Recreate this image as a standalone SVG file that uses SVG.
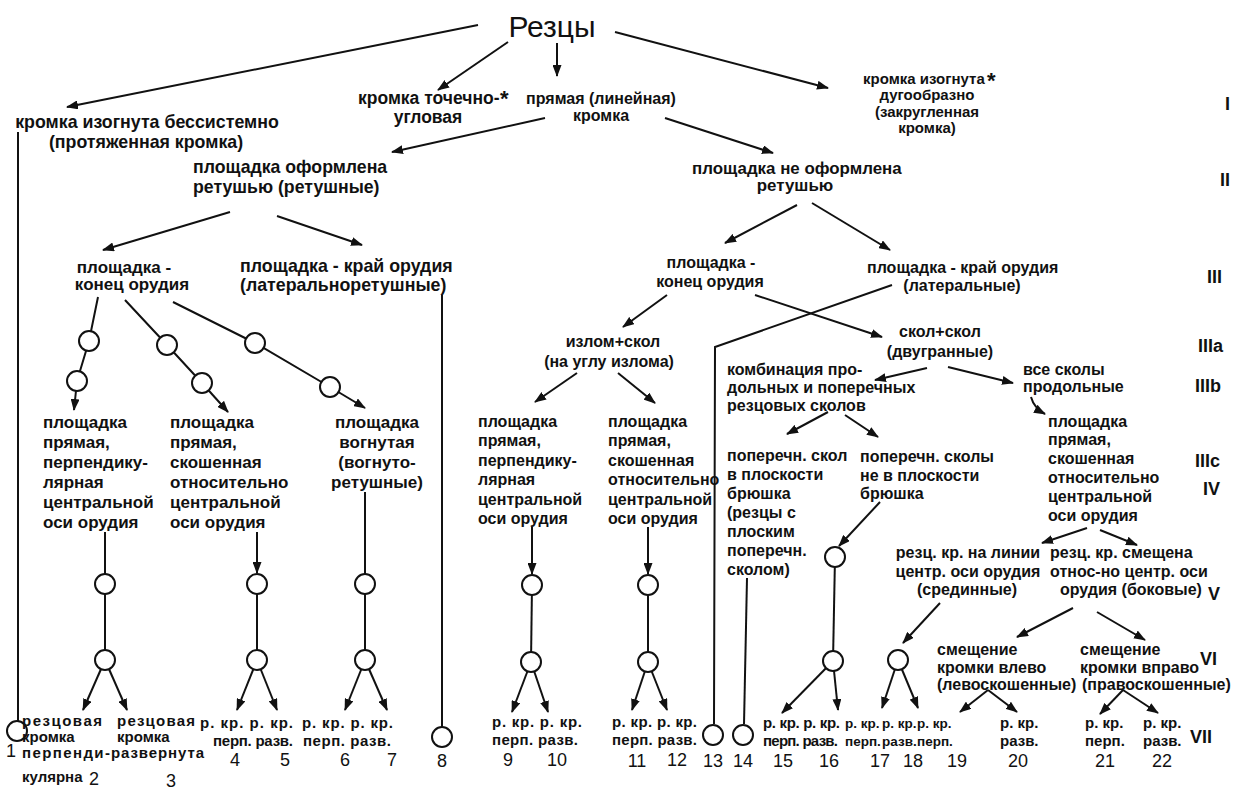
<svg xmlns="http://www.w3.org/2000/svg" width="1247" height="798" viewBox="0 0 1247 798">
<style>
text{font-family:"Liberation Sans",Arial,sans-serif;font-weight:bold;fill:#111}
.t{font-size:16px}
.s{font-size:15px}
.xs{font-size:13.5px}
.l{font-size:17px}
.n{font-size:18px;font-weight:normal;text-anchor:middle}
.m{text-anchor:middle}
.r{font-size:18px}
.ti{font-size:30px;font-weight:normal;text-anchor:middle}
.st{font-size:22px}
line,path,polyline{fill:none;stroke:#111;stroke-width:2}
.a{marker-end:url(#ah)}
circle{fill:#fff;stroke:#111;stroke-width:2}
</style>
<defs>
<marker id="ah" markerUnits="userSpaceOnUse" markerWidth="12" markerHeight="9" refX="11" refY="4.5" orient="auto">
<path d="M0,0 L12,4.5 L0,9 z" style="fill:#111;stroke:none"/>
</marker>
</defs>
<rect width="1247" height="798" fill="#fff"/>

<g id="connectors">
<line class="a" x1="478" y1="25" x2="67" y2="107"/>
<line class="a" x1="508" y1="42" x2="438" y2="90"/>
<line class="a" x1="557" y1="43" x2="557" y2="76"/>
<line class="a" x1="615" y1="32" x2="828" y2="88"/>
<line class="a" x1="545" y1="118" x2="392" y2="152"/>
<line class="a" x1="665" y1="118" x2="773" y2="153"/>
<line class="a" x1="230" y1="212" x2="103" y2="250"/>
<line class="a" x1="277" y1="216" x2="362" y2="245"/>
<line class="a" x1="797" y1="205" x2="725" y2="243"/>
<line class="a" x1="812" y1="203" x2="890" y2="250"/>
<line x1="18" y1="132" x2="18" y2="721"/>
<line x1="442" y1="295" x2="442" y2="727"/>
<polyline points="98,297 89,341 77,381"/>
<line class="a" x1="77" y1="381" x2="74" y2="410"/>
<polyline points="125,300 167,345 202,383"/>
<line class="a" x1="202" y1="383" x2="228" y2="412"/>
<polyline points="173,302 255,343 330,387"/>
<line class="a" x1="330" y1="387" x2="365" y2="408"/>
<line x1="105" y1="532" x2="105" y2="660"/>
<line class="a" x1="257" y1="532" x2="257" y2="573"/>
<line x1="257" y1="584" x2="257" y2="660"/>
<line x1="365" y1="492" x2="365" y2="660"/>
<line class="a" x1="105" y1="660" x2="83" y2="710"/>
<line class="a" x1="105" y1="660" x2="127" y2="710"/>
<line class="a" x1="257" y1="660" x2="237" y2="710"/>
<line class="a" x1="257" y1="660" x2="277" y2="710"/>
<line class="a" x1="365" y1="660" x2="345" y2="710"/>
<line class="a" x1="365" y1="660" x2="387" y2="710"/>
<line class="a" x1="667" y1="295" x2="623" y2="327"/>
<line class="a" x1="755" y1="295" x2="882" y2="337"/>
<polyline points="892,285 715,347 714,724"/>
<line class="a" x1="577" y1="373" x2="535" y2="402"/>
<line class="a" x1="618" y1="373" x2="655" y2="403"/>
<line class="a" x1="532" y1="527" x2="532" y2="574"/>
<line x1="532" y1="585" x2="531" y2="662"/>
<line class="a" x1="531" y1="662" x2="512" y2="712"/>
<line class="a" x1="531" y1="662" x2="548" y2="712"/>
<line class="a" x1="648" y1="527" x2="648" y2="574"/>
<line x1="648" y1="585" x2="648" y2="662"/>
<line class="a" x1="648" y1="662" x2="632" y2="710"/>
<line class="a" x1="648" y1="662" x2="667" y2="710"/>
<line x1="747" y1="578" x2="744" y2="724"/>
<line class="a" x1="927" y1="368" x2="875" y2="380"/>
<line class="a" x1="948" y1="367" x2="1013" y2="383"/>
<path class="a" d="M1031,397 Q1034,408 1045,414"/>
<line class="a" x1="828" y1="412" x2="787" y2="434"/>
<line class="a" x1="845" y1="415" x2="878" y2="437"/>
<line class="a" x1="880" y1="502" x2="839" y2="546"/>
<line x1="835" y1="557" x2="833" y2="661"/>
<line class="a" x1="833" y1="661" x2="782" y2="713"/>
<line class="a" x1="833" y1="661" x2="838" y2="710"/>
<line class="a" x1="1087" y1="528" x2="1042" y2="543"/>
<line class="a" x1="1100" y1="530" x2="1137" y2="545"/>
<line class="a" x1="940" y1="603" x2="903" y2="643"/>
<line class="a" x1="898" y1="660" x2="882" y2="708"/>
<line class="a" x1="898" y1="660" x2="918" y2="708"/>
<line class="a" x1="1073" y1="608" x2="1017" y2="637"/>
<line class="a" x1="1097" y1="612" x2="1145" y2="640"/>
<line class="a" x1="988" y1="690" x2="960" y2="712"/>
<line class="a" x1="988" y1="690" x2="1017" y2="712"/>
<line class="a" x1="1123" y1="690" x2="1100" y2="714"/>
<line class="a" x1="1123" y1="690" x2="1158" y2="713"/>
</g>

<g id="root"><text class="ti" x="552" y="37">Резцы</text></g>

<g id="n-unsystematic" style="font-size:17.8px">
<text class="m" x="147" y="128">кромка изогнута бессистемно</text>
<text class="m" x="146" y="148">(протяженная кромка)</text>
</g>
<g id="n-point" style="font-size:17.5px">
<text x="358" y="104">кромка точечно-</text><text class="st" x="500" y="106">*</text>
<text class="m" x="428" y="123">угловая</text>
</g>
<g id="n-straight" class="t">
<text class="m" x="601" y="104">прямая (линейная)</text>
<text class="m" x="601" y="121">кромка</text>
</g>
<g id="n-curved" class="s">
<text x="863" y="84">кромка изогнута</text><text class="st" x="987" y="88">*</text>
<text class="m" x="927" y="100">дугообразно</text>
<text class="m" x="927" y="117">(закругленная</text>
<text class="m" x="927" y="133">кромка)</text>
</g>

<g id="n-retouched" style="font-size:17.7px">
<text x="193" y="173">площадка оформлена</text>
<text x="193" y="193">ретушью (ретушные)</text>
</g>
<g id="n-not-retouched" style="font-size:16.9px">
<text x="692" y="174">площадка  не оформлена</text>
<text class="m" x="795" y="191">ретушью</text>
</g>

<g id="n-end-left" class="l">
<text class="m" x="124" y="273">площадка -</text>
<text class="m" x="132" y="290">конец орудия</text>
</g>
<g id="n-edge-left" style="font-size:17.8px">
<text x="240" y="272">площадка - край орудия</text>
<text x="240" y="291">(латеральноретушные)</text>
</g>
<g id="n-end-right" class="t">
<text class="m" x="711" y="268">площадка -</text>
<text class="m" x="710" y="287">конец орудия</text>
</g>
<g id="n-edge-right" class="t">
<text x="867" y="273">площадка - край орудия</text>
<text class="m" x="962" y="291">(латеральные)</text>
</g>

<g id="n-break" class="t">
<text class="m" x="613" y="347">излом+скол</text>
<text class="m" x="609" y="367">(на углу излома)</text>
</g>
<g id="n-dihedral" class="t">
<text class="m" x="940" y="337">скол+скол</text>
<text class="m" x="940" y="357">(двугранные)</text>
</g>
<g id="n-combination" class="t">
<text x="727" y="375">комбинация про-</text>
<text x="727" y="393">дольных и поперечных</text>
<text x="727" y="411">резцовых сколов</text>
</g>
<g id="n-longitudinal" class="t">
<text x="1023" y="375">все сколы</text>
<text x="1023" y="392">продольные</text>
</g>

<g id="n-A" class="l">
<text x="43" y="428">площадка</text><text x="43" y="448">прямая,</text><text x="43" y="468">перпендику-</text><text x="43" y="488">лярная</text><text x="43" y="508">центральной</text><text x="43" y="528">оси орудия</text>
</g>
<g id="n-B" class="l">
<text x="170" y="428">площадка</text><text x="170" y="448">прямая,</text><text x="170" y="468">скошенная</text><text x="170" y="488">относительно</text><text x="170" y="508">центральной</text><text x="170" y="528">оси орудия</text>
</g>
<g id="n-C" class="l">
<text class="m" x="377" y="428">площадка</text><text class="m" x="377" y="448">вогнутая</text><text class="m" x="377" y="468">(вогнуто-</text><text class="m" x="377" y="488">ретушные)</text>
</g>
<g id="n-D" class="t">
<text x="478" y="427">площадка</text><text x="478" y="446">прямая,</text><text x="478" y="466">перпендику-</text><text x="478" y="485">лярная</text><text x="478" y="505">центральной</text><text x="478" y="524">оси орудия</text>
</g>
<g id="n-E" class="t">
<text x="608" y="427">площадка</text><text x="608" y="446">прямая,</text><text x="608" y="466">скошенная</text><text x="608" y="485">относительно</text><text x="608" y="505">центральной</text><text x="608" y="524">оси орудия</text>
</g>
<g id="n-transverse-flat" class="t">
<text x="727" y="461">поперечн. скол</text><text x="727" y="480">в плоскости</text><text x="727" y="499">брюшка</text><text x="727" y="518">(резцы с</text><text x="727" y="537">плоским</text><text x="727" y="556">поперечн.</text><text x="727" y="575">сколом)</text>
</g>
<g id="n-transverse-not" class="t">
<text x="860" y="462">поперечн. сколы</text><text x="860" y="481">не в плоскости</text><text x="860" y="499">брюшка</text>
</g>
<g id="n-F" class="t">
<text x="1048" y="427">площадка</text><text x="1048" y="445">прямая,</text><text x="1048" y="464">скошенная</text><text x="1048" y="483">относительно</text><text x="1048" y="502">центральной</text><text x="1048" y="521">оси орудия</text>
</g>
<g id="n-median" class="t">
<text class="m" x="968" y="558">резц. кр. на линии</text>
<text class="m" x="968" y="577">центр. оси орудия</text>
<text class="m" x="967" y="595">(срединные)</text>
</g>
<g id="n-lateral" class="t">
<text x="1050" y="558">резц. кр.   смещена</text>
<text x="1050" y="577">относ-но центр. оси</text>
<text x="1060" y="595">орудия (боковые)</text>
</g>
<g id="n-left-shift" class="t">
<text x="937" y="655">смещение</text><text x="937" y="673">кромки влево</text><text x="937" y="690">(левоскошенные)</text>
</g>
<g id="n-right-shift" class="t">
<text x="1080" y="655">смещение</text><text x="1080" y="673">кромки вправо</text><text x="1082" y="690">(правоскошенные)</text>
</g>

<g id="j-A"><circle cx="89" cy="341" r="10"/><circle cx="77" cy="381" r="10"/></g>
<g id="j-B"><circle cx="167" cy="345" r="10"/><circle cx="202" cy="383" r="10"/></g>
<g id="j-C"><circle cx="255" cy="343" r="10"/><circle cx="330" cy="387" r="10"/></g>
<g id="j-A2"><circle cx="105" cy="584" r="10"/><circle cx="105" cy="660" r="10"/></g>
<g id="j-B2"><circle cx="257" cy="584" r="10"/><circle cx="257" cy="660" r="10"/></g>
<g id="j-C2"><circle cx="365" cy="584" r="10"/><circle cx="365" cy="660" r="10"/></g>
<g id="j-D2"><circle cx="532" cy="585" r="10"/><circle cx="531" cy="662" r="10"/></g>
<g id="j-E2"><circle cx="648" cy="585" r="10"/><circle cx="648" cy="662" r="10"/></g>
<g id="j-G"><circle cx="835" cy="557" r="10"/><circle cx="833" cy="661" r="10"/></g>
<g id="j-H"><circle cx="898" cy="660" r="10"/></g>

<g id="leaf-1"><circle cx="17" cy="731" r="10"/><text class="n" x="11" y="757">1</text></g>
<g id="leaf-2-3" class="s">
<text x="22" y="726" textLength="80">резцовая</text><text x="22" y="742">кромка</text><text x="22" y="758" textLength="88">перпенди-</text><text x="22" y="782">кулярна</text>
<text x="117" y="726" textLength="78">резцовая</text><text x="117" y="742">кромка</text><text x="111" y="758" textLength="93">развернута</text>
<text class="n" x="94" y="785">2</text><text class="n" x="171" y="787">3</text>
</g>
<g id="leaf-4-5" class="s"><text x="200" y="728" textLength="93">р. кр. р. кр.</text><text x="213" y="746" textLength="80">перп. разв.</text><text class="n" x="235" y="766">4</text><text class="n" x="285" y="766">5</text></g>
<g id="leaf-6-7" class="s"><text x="302" y="728" textLength="91">р. кр. р. кр.</text><text x="303" y="746" textLength="88">перп. разв.</text><text class="n" x="345" y="766">6</text><text class="n" x="392" y="766">7</text></g>
<g id="leaf-8"><circle cx="442" cy="737" r="10"/><text class="n" x="442" y="767">8</text></g>
<g id="leaf-9-10" class="s"><text x="492" y="727" textLength="90">р. кр. р. кр.</text><text x="492" y="745" textLength="86">перп. разв.</text><text class="n" x="508" y="766">9</text><text class="n" x="557" y="766">10</text></g>
<g id="leaf-11-12" class="s"><text x="612" y="727" textLength="85">р. кр. р. кр.</text><text x="612" y="745" textLength="85">перп. разв.</text><text class="n" x="637" y="767">11</text><text class="n" x="677" y="766">12</text></g>
<g id="leaf-13"><circle cx="713" cy="735" r="10"/><text class="n" x="713" y="767">13</text></g>
<g id="leaf-14"><circle cx="743" cy="735" r="10"/><text class="n" x="743" y="767">14</text></g>
<g id="leaf-15-16" class="s"><text x="763" y="728" textLength="77">р. кр. р. кр.</text><text x="763" y="746" textLength="75">перп. разв.</text><text class="n" x="783" y="767">15</text><text class="n" x="829" y="767">16</text></g>
<g id="leaf-17-19" class="xs"><text x="845" y="728">р. кр.</text><text x="882" y="728">р. кр.</text><text x="917" y="728">р. кр.</text><text x="845" y="746">перп.</text><text x="882" y="746">разв.</text><text x="917" y="746">перп.</text><text class="n" x="880" y="767">17</text><text class="n" x="913" y="767">18</text><text class="n" x="957" y="767">19</text></g>
<g id="leaf-20" class="s"><text x="1000" y="728">р. кр.</text><text x="1000" y="746">разв.</text><text class="n" x="1018" y="767">20</text></g>
<g id="leaf-21" class="s"><text x="1085" y="728">р. кр.</text><text x="1085" y="746">перп.</text><text class="n" x="1105" y="767">21</text></g>
<g id="leaf-22" class="s"><text x="1143" y="728">р. кр.</text><text x="1143" y="746">разв.</text><text class="n" x="1162" y="767">22</text></g>

<g id="levels" class="r">
<text x="1225" y="110">I</text>
<text x="1220" y="186">II</text>
<text x="1207" y="283">III</text>
<text x="1198" y="352">IIIa</text>
<text x="1195" y="392">IIIb</text>
<text x="1195" y="467">IIIc</text>
<text x="1203" y="495">IV</text>
<text x="1208" y="600">V</text>
<text x="1200" y="665">VI</text>
<text x="1190" y="743">VII</text>
</g>
</svg>
